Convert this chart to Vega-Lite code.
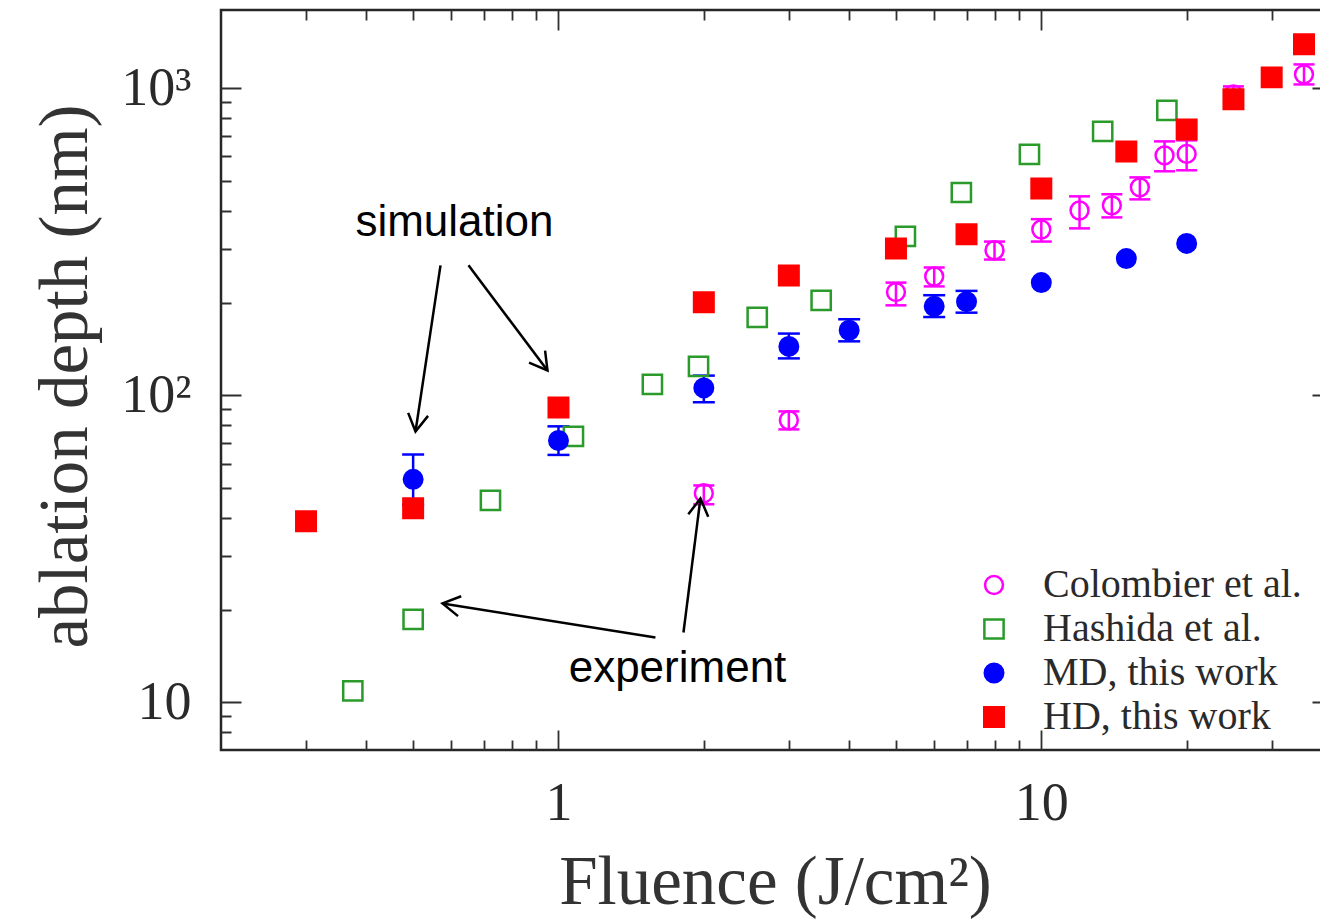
{
  "$schema": "https://vega.github.io/schema/vega-lite/v6.json",
  "width": 1111,
  "height": 740,
  "autosize": {"type": "none"},
  "padding": {"left": 221, "top": 10, "right": 0, "bottom": 173},
  "background": "white",
  "config": {
    "view": {"stroke": "#262626", "strokeWidth": 2.5},
    "font": "Liberation Serif",
    "legend": {
      "labelFont": "Liberation Serif",
      "labelFontSize": 40,
      "labelColor": "#2a2a2a",
      "labelLimit": 0,
      "labelOffset": 29,
      "rowPadding": 4,
      "padding": 0,
      "symbolStrokeWidth": 2.5,
      "symbolOpacity": 1
    }
  },
  "datasets": {
    "pts": [
      {"series": "Hashida et al.", "x": 0.375, "y": 10.9},
      {"series": "Hashida et al.", "x": 0.5, "y": 18.65},
      {"series": "Hashida et al.", "x": 0.723, "y": 45.5},
      {"series": "Hashida et al.", "x": 1.074, "y": 73.5},
      {"series": "Hashida et al.", "x": 1.565, "y": 108.6},
      {"series": "Hashida et al.", "x": 1.95, "y": 124.3},
      {"series": "Hashida et al.", "x": 2.58, "y": 179.5},
      {"series": "Hashida et al.", "x": 3.5, "y": 204},
      {"series": "Hashida et al.", "x": 5.23, "y": 329.6},
      {"series": "Hashida et al.", "x": 6.83, "y": 458},
      {"series": "Hashida et al.", "x": 9.45, "y": 610},
      {"series": "Hashida et al.", "x": 13.4, "y": 724},
      {"series": "Hashida et al.", "x": 18.2, "y": 848},
      {"series": "Colombier et al.", "x": 2, "y": 48, "lo": 44.2, "hi": 50.9},
      {"series": "Colombier et al.", "x": 3, "y": 83, "lo": 77.5, "hi": 88.7},
      {"series": "Colombier et al.", "x": 5, "y": 217, "lo": 196.5, "hi": 233},
      {"series": "Colombier et al.", "x": 6, "y": 244, "lo": 226.5, "hi": 261},
      {"series": "Colombier et al.", "x": 8, "y": 297, "lo": 277, "hi": 317},
      {"series": "Colombier et al.", "x": 10, "y": 347, "lo": 317, "hi": 375},
      {"series": "Colombier et al.", "x": 12, "y": 400, "lo": 350, "hi": 445},
      {"series": "Colombier et al.", "x": 14, "y": 416, "lo": 380, "hi": 452},
      {"series": "Colombier et al.", "x": 16, "y": 476, "lo": 435, "hi": 513},
      {"series": "Colombier et al.", "x": 18, "y": 605, "lo": 537, "hi": 672},
      {"series": "Colombier et al.", "x": 20, "y": 612, "lo": 541, "hi": 677},
      {"series": "Colombier et al.", "x": 25, "y": 956, "lo": 900, "hi": 1015},
      {"series": "Colombier et al.", "x": 35, "y": 1111, "lo": 1030, "hi": 1197},
      {"series": "MD, this work", "x": 0.5, "y": 53.3, "lo": 44, "hi": 64.2},
      {"series": "MD, this work", "x": 1, "y": 71.3, "lo": 64, "hi": 79.3},
      {"series": "MD, this work", "x": 2, "y": 105.8, "lo": 95, "hi": 116},
      {"series": "MD, this work", "x": 3, "y": 144.4, "lo": 132, "hi": 159},
      {"series": "MD, this work", "x": 4, "y": 163, "lo": 150, "hi": 177},
      {"series": "MD, this work", "x": 6, "y": 195, "lo": 180, "hi": 212},
      {"series": "MD, this work", "x": 7, "y": 202, "lo": 186, "hi": 219},
      {"series": "MD, this work", "x": 10, "y": 233},
      {"series": "MD, this work", "x": 15, "y": 279},
      {"series": "MD, this work", "x": 20, "y": 312.6},
      {"series": "HD, this work", "x": 0.3, "y": 38.9},
      {"series": "HD, this work", "x": 0.5, "y": 42.9},
      {"series": "HD, this work", "x": 1, "y": 91.4},
      {"series": "HD, this work", "x": 2, "y": 201},
      {"series": "HD, this work", "x": 3, "y": 246},
      {"series": "HD, this work", "x": 5, "y": 301},
      {"series": "HD, this work", "x": 7, "y": 335},
      {"series": "HD, this work", "x": 10, "y": 472},
      {"series": "HD, this work", "x": 15, "y": 623},
      {"series": "HD, this work", "x": 20, "y": 735},
      {"series": "HD, this work", "x": 25, "y": 921},
      {"series": "HD, this work", "x": 30, "y": 1086},
      {"series": "HD, this work", "x": 35, "y": 1391}
    ],
    "arrows": [
      {"x": 0.5697, "y": 265.2, "x2": 0.5057, "y2": 76.3, "angle": 98.6},
      {"x": 0.651, "y": 265.2, "x2": 0.9489, "y2": 120.6, "angle": 53.0},
      {"x": 1.588, "y": 16.28, "x2": 0.5752, "y2": 21.01, "angle": 189.1},
      {"x": 1.815, "y": 16.9, "x2": 1.968, "y2": 46.2, "angle": 277.2}
    ],
    "notes": [
      {"x": 0.609, "y": 329.6, "label": "simulation"},
      {"x": 1.764, "y": 11.7, "label": "experiment"}
    ]
  },
  "layer": [
    {
      "data": {"name": "pts"},
      "transform": [{"filter": "isValid(datum.lo) && datum.series == 'Colombier et al.'"}],
      "mark": {"type": "rule", "color": "#ff00ff", "strokeWidth": 2.5},
      "encoding": {
        "x": {"field": "x", "type": "quantitative", "scale": {"type": "log", "domain": [0.2, 40], "nice": false}},
        "y": {"field": "lo", "type": "quantitative", "scale": {"type": "log", "domain": [7, 1800], "nice": false}},
        "y2": {"field": "hi"}
      }
    },
    {
      "data": {"name": "pts"},
      "transform": [
        {"filter": "isValid(datum.lo) && datum.series == 'Colombier et al.'"},
        {"fold": ["lo", "hi"], "as": ["k", "v"]}
      ],
      "mark": {"type": "tick", "orient": "horizontal", "color": "#ff00ff", "size": 21, "thickness": 2.5, "opacity": 1},
      "encoding": {
        "x": {"field": "x", "type": "quantitative", "scale": {"type": "log", "domain": [0.2, 40], "nice": false}},
        "y": {"field": "v", "type": "quantitative", "scale": {"type": "log", "domain": [7, 1800], "nice": false}}
      }
    },
    {
      "data": {"name": "pts"},
      "transform": [{"filter": "isValid(datum.lo) && datum.series == 'MD, this work'"}],
      "mark": {"type": "rule", "color": "#0000ff", "strokeWidth": 2.5},
      "encoding": {
        "x": {"field": "x", "type": "quantitative", "scale": {"type": "log", "domain": [0.2, 40], "nice": false}},
        "y": {"field": "lo", "type": "quantitative", "scale": {"type": "log", "domain": [7, 1800], "nice": false}},
        "y2": {"field": "hi"}
      }
    },
    {
      "data": {"name": "pts"},
      "transform": [
        {"filter": "isValid(datum.lo) && datum.series == 'MD, this work'"},
        {"fold": ["lo", "hi"], "as": ["k", "v"]}
      ],
      "mark": {"type": "tick", "orient": "horizontal", "color": "#0000ff", "size": 22, "thickness": 2.5, "opacity": 1},
      "encoding": {
        "x": {"field": "x", "type": "quantitative", "scale": {"type": "log", "domain": [0.2, 40], "nice": false}},
        "y": {"field": "v", "type": "quantitative", "scale": {"type": "log", "domain": [7, 1800], "nice": false}}
      }
    },
    {
      "data": {"name": "pts"},
      "mark": {"type": "point", "strokeWidth": 2.5, "opacity": 1},
      "encoding": {
        "x": {
          "field": "x", "type": "quantitative",
          "scale": {"type": "log", "domain": [0.2, 40], "nice": false},
          "axis": {
            "title": "Fluence (J/cm²)",
            "values": [0.3, 0.4, 0.5, 0.6, 0.7, 0.8, 0.9, 1, 2, 3, 4, 5, 6, 7, 8, 9, 10, 20, 30],
            "labelExpr": "datum.value == 1 ? '1' : datum.value == 10 ? '10' : ''",
            "labelFont": "Liberation Serif", "labelFontSize": 54, "labelColor": "#2a2a2a",
            "labelPadding": 26, "labelOverlap": false, "labelFlush": false, "labelBound": false,
            "domain": false, "ticks": false,
            "grid": true, "gridColor": "#303030", "gridWidth": 1.8, "gridOpacity": 1,
            "gridDash": {"condition": {"test": "datum.value == 1 || datum.value == 10", "value": [20, 700, 20, 3000]}, "value": [10, 720, 10, 3000]},
            "titleFont": "Liberation Serif", "titleFontSize": 69, "titleFontWeight": "normal", "titleColor": "#333333",
            "titleX": 554, "titleY": 153, "titleBaseline": "alphabetic", "titleAlign": "center", "titleAnchor": null
          }
        },
        "y": {
          "field": "y", "type": "quantitative",
          "scale": {"type": "log", "domain": [7, 1800], "nice": false},
          "axis": {
            "title": "ablation depth (nm)",
            "values": [8, 9, 10, 20, 30, 40, 50, 60, 70, 80, 90, 100, 200, 300, 400, 500, 600, 700, 800, 900, 1000],
            "labelExpr": "datum.value == 1000 ? '10³' : datum.value == 100 ? '10²' : datum.value == 10 ? '10' : ''",
            "labelFont": "Liberation Serif", "labelFontSize": 54, "labelColor": "#2a2a2a",
            "labelPadding": 30, "labelOverlap": false, "labelFlush": false, "labelBound": false,
            "domain": false, "ticks": false,
            "grid": true, "gridColor": "#303030", "gridWidth": 1.8, "gridOpacity": 1,
            "gridDash": {"condition": {"test": "datum.value == 10 || datum.value == 100 || datum.value == 1000", "value": [20, 1071, 20, 3000]}, "value": [10, 1091, 10, 3000]},
            "titleFont": "Liberation Serif", "titleFontSize": 69, "titleFontWeight": "normal", "titleColor": "#333333",
            "titleAngle": -90, "titleX": -135, "titleY": 366, "titleBaseline": "alphabetic", "titleAlign": "center", "titleAnchor": null
          }
        },
        "fill": {
          "field": "series", "type": "nominal", "title": null,
          "scale": {"domain": ["Colombier et al.", "Hashida et al.", "MD, this work", "HD, this work"], "range": ["transparent", "transparent", "#0000ff", "#ff0000"]},
          "legend": {"orient": "none", "legendX": 753, "legendY": 555, "direction": "vertical", "title": null}
        },
        "stroke": {
          "field": "series", "type": "nominal", "title": null,
          "scale": {"domain": ["Colombier et al.", "Hashida et al.", "MD, this work", "HD, this work"], "range": ["#ff00ff", "#2a9a2a", "#0000ff", "#ff0000"]}
        },
        "shape": {
          "field": "series", "type": "nominal", "title": null,
          "scale": {"domain": ["Colombier et al.", "Hashida et al.", "MD, this work", "HD, this work"], "range": ["circle", "square", "circle", "square"]}
        },
        "size": {
          "field": "series", "type": "nominal", "title": null,
          "scale": {"type": "ordinal", "domain": ["Colombier et al.", "Hashida et al.", "MD, this work", "HD, this work"], "range": [320, 370, 342, 380]}
        }
      }
    },
    {
      "data": {"name": "arrows"},
      "mark": {"type": "rule", "color": "#000000", "strokeWidth": 2.5},
      "encoding": {
        "x": {"field": "x", "type": "quantitative", "scale": {"type": "log", "domain": [0.2, 40], "nice": false}},
        "y": {"field": "y", "type": "quantitative", "scale": {"type": "log", "domain": [7, 1800], "nice": false}},
        "x2": {"field": "x2"},
        "y2": {"field": "y2"}
      }
    },
    {
      "data": {"name": "arrows"},
      "mark": {"type": "point", "shape": "M-1,-0.58L0,0L-1,0.58", "filled": false, "stroke": "#000000", "strokeWidth": 2.5, "size": 1200, "opacity": 1},
      "encoding": {
        "x": {"field": "x2", "type": "quantitative", "scale": {"type": "log", "domain": [0.2, 40], "nice": false}},
        "y": {"field": "y2", "type": "quantitative", "scale": {"type": "log", "domain": [7, 1800], "nice": false}},
        "angle": {"field": "angle", "type": "quantitative", "scale": null}
      }
    },
    {
      "data": {"name": "notes"},
      "mark": {"type": "text", "font": "Liberation Sans", "fontSize": 44, "align": "center", "baseline": "alphabetic", "color": "#000000"},
      "encoding": {
        "x": {"field": "x", "type": "quantitative", "scale": {"type": "log", "domain": [0.2, 40], "nice": false}},
        "y": {"field": "y", "type": "quantitative", "scale": {"type": "log", "domain": [7, 1800], "nice": false}},
        "text": {"field": "label"}
      }
    }
  ]
}
